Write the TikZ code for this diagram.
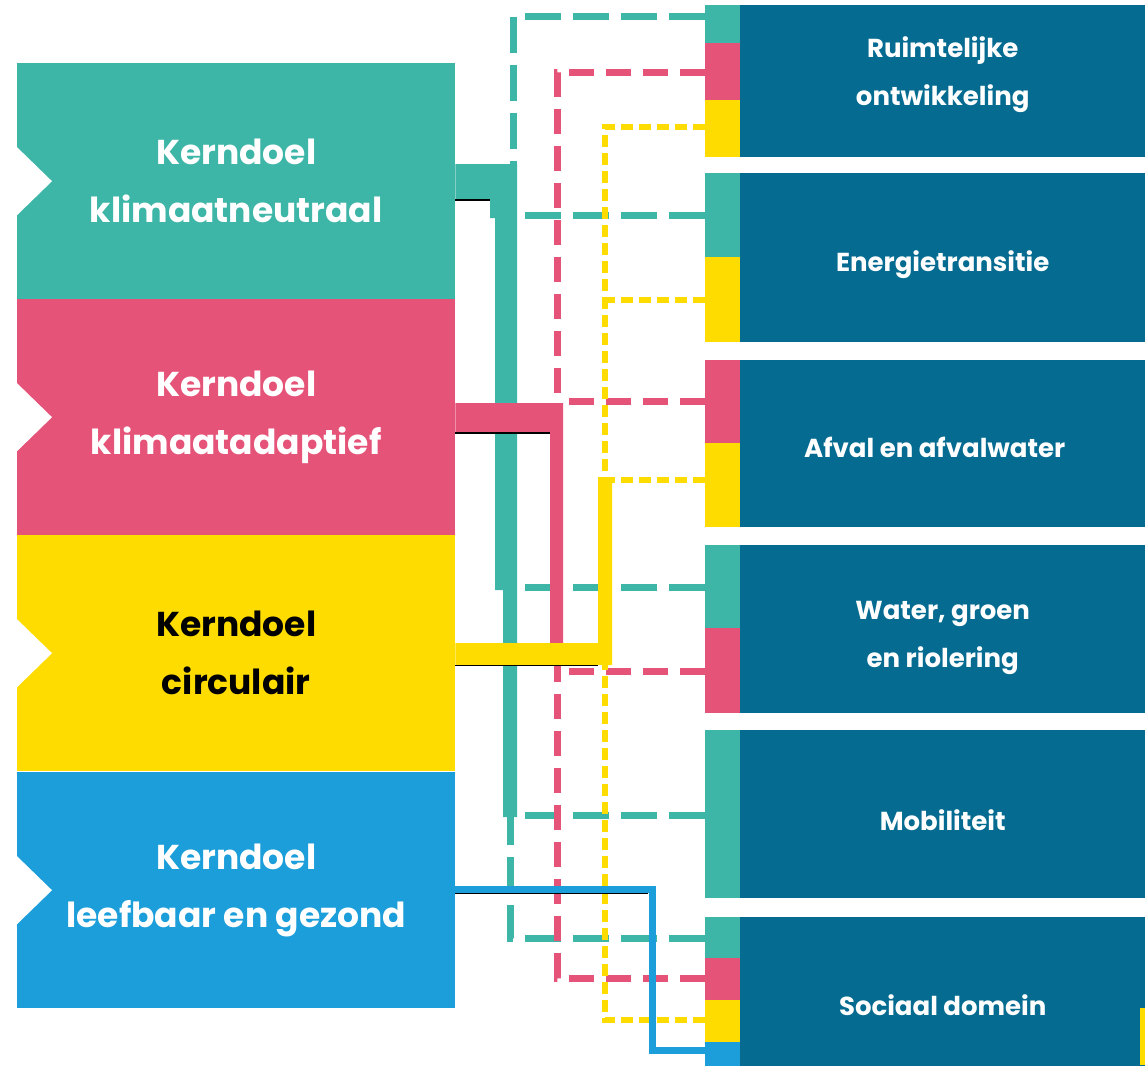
\documentclass[tikz,border=0pt]{standalone}
\usepackage{fontspec}
\setmainfont{Poppins}
\definecolor{tealc}{HTML}{3DB5A7}
\definecolor{pinkc}{HTML}{E55378}
\definecolor{yellowc}{HTML}{FFDC00}
\definecolor{bluec}{HTML}{1B9EDA}
\definecolor{navyc}{HTML}{056B91}
\begin{document}
\begin{tikzpicture}[x=1pt,y=-1pt,
  lbox/.style={draw=none,minimum width=438pt,minimum height=236pt,inner sep=0pt,anchor=north west,align=center,text=white,font=\fontsize{34.5}{58}\selectfont\bfseries},
  rbox/.style={fill=navyc,draw=none,minimum width=405pt,inner sep=0pt,anchor=north west},
  rtext/.style={inner sep=0pt,align=center,text=white,font=\fontsize{26}{48}\selectfont\bfseries},
  strip/.style={draw=none,inner sep=0pt,minimum width=35pt,anchor=north west},
  tdash/.style={draw=tealc,line width=7pt,dash pattern=on 36pt off 12pt},
  pdash/.style={draw=pinkc,line width=7pt,dash pattern=on 25pt off 12pt},
  ydash/.style={draw=yellowc,line width=6pt,dash pattern=on 12pt off 6pt},
  shadow/.style={draw=black,line width=1.2pt}
]
\useasboundingbox (0,0) rectangle (1145,1065);

% left boxes
\node[lbox,fill=tealc]   (kn) at (17,63)  {Kerndoel\\klimaatneutraal};
\node[lbox,fill=pinkc]   (ka) at (17,299) {Kerndoel\\klimaatadaptief};
\node[lbox,fill=yellowc,text=black] (kc) at (17,535) {Kerndoel\\circulair};
\node[lbox,fill=bluec]   (kl) at (17,772) {Kerndoel\\leefbaar en gezond};
\foreach \b in {kn,ka,kc,kl}{
  \fill[white] ([xshift=-1pt]\b.west) ++(0,-35) -- ++(36,35) -- ++(-36,35) -- cycle;
}

% right boxes
\node[rbox,minimum height=152pt] (r1) at (740,5)   {};
\node[rbox,minimum height=169pt] (r2) at (740,173) {};
\node[rbox,minimum height=167pt] (r3) at (740,360) {};
\node[rbox,minimum height=168pt] (r4) at (740,545) {};
\node[rbox,minimum height=168pt] (r5) at (740,730) {};
\node[rbox,minimum height=176pt] (r6) at (740,917) {};
\node[rtext,yshift=7pt]  (t1) at (r1.center) {Ruimtelijke\\ontwikkeling};
\node[rtext,yshift=-7pt] (t2) at (r2.center) {Energietransitie};
\node[rtext,yshift=-4pt,xshift=-8pt] (t3) at (r3.center) {Afval en afvalwater};
\node[rtext,yshift=-9pt] (t4) at (r4.center) {Water, groen\\en riolering};
\node[rtext,yshift=-6pt] (t5) at (r5.center) {Mobiliteit};
\node[rtext]             (t6) at (r6.center) {Sociaal domein};

% colour strips
\node[strip,fill=tealc,minimum height=38pt]   (s1t) at (705,5) {};
\node[strip,fill=pinkc,minimum height=57pt]   (s1p) at (705,43) {};
\node[strip,fill=yellowc,minimum height=57pt] (s1y) at (705,100) {};
\node[strip,fill=tealc,minimum height=84pt]   (s2t) at (705,173) {};
\node[strip,fill=yellowc,minimum height=85pt] (s2y) at (705,257) {};
\node[strip,fill=pinkc,minimum height=83pt]   (s3p) at (705,360) {};
\node[strip,fill=yellowc,minimum height=84pt] (s3y) at (705,443) {};
\node[strip,fill=tealc,minimum height=83pt]   (s4t) at (705,545) {};
\node[strip,fill=pinkc,minimum height=85pt]   (s4p) at (705,628) {};
\node[strip,fill=tealc,minimum height=168pt]  (s5t) at (705,730) {};
\node[strip,fill=tealc,minimum height=41pt]   (s6t) at (705,917) {};
\node[strip,fill=pinkc,minimum height=42pt]   (s6p) at (705,958) {};
\node[strip,fill=yellowc,minimum height=42pt] (s6y) at (705,1000) {};
\node[strip,fill=bluec,minimum height=30pt]   (s6b) at (705,1042) {};
\fill[yellowc] (1140,1008) rectangle (1145,1065);

% ---- teal connectors
\coordinate (tA) at (513,164);
\draw[tdash] (s1t.west |- 0,17) -- (513,17) -- (tA);
\draw[tdash] (s2t.west |- 0,215) -- (517,215);
\draw[tdash] (s4t.west |- 0,587) -- (517,587);
\draw[tdash] (s5t.west |- 0,815) -- (517,815);
\draw[tdash] (s6t.west |- 0,938) -- (510,938) -- (510,817);
\fill[tealc] (kn.east |- 0,164) -- (517,164) -- (517,817) -- (503,817) -- (503,590) -- (495,590) -- (495,218) -- (490,218) -- (490,200) -- (kn.east |- 0,200) -- cycle;
\draw[shadow] (kn.east |- 0,200) -- (490,200);

% ---- pink connectors
\draw[pdash] (s1p.west |- 0,72) -- (557,72) -- (557,403);
\draw[pdash] (s3p.west |- 0,401) -- (563,401);
\draw[pdash] (s4p.west |- 0,671) -- (557,671);
\draw[pdash] (s6p.west |- 0,978) -- (557,978) -- (557,643);
\fill[pinkc] (ka.east |- 0,403) -- (563,403) -- (563,643) -- (550,643) -- (550,433) -- (ka.east |- 0,433) -- cycle;
\draw[shadow] (ka.east |- 0,433) -- (550,433);

% ---- yellow connectors
\draw[ydash] (s1y.west |- 0,127) -- (605,127) -- (605,477);
\draw[ydash] (s2y.west |- 0,300) -- (605,300);
\draw[ydash] (s3y.west |- 0,480) -- (612,480);
\draw[ydash] (s6y.west |- 0,1020) -- (605,1020) -- (605,665);
\fill[yellowc] (kc.east |- 0,643) -- (598,643) -- (598,477) -- (612,477) -- (612,665) -- (kc.east |- 0,665) -- cycle;
\draw[shadow] (kc.east |- 0,665.5) -- (598,665.5);

% ---- blue connector
\draw[bluec,line width=7pt] (kl.east |- 0,889) -- (652,889) -- (652,1050) -- (s6b.west |- 0,1050);
\draw[shadow,line width=1pt] (kl.east |- 0,893) -- (648,893);
\end{tikzpicture}
\end{document}
